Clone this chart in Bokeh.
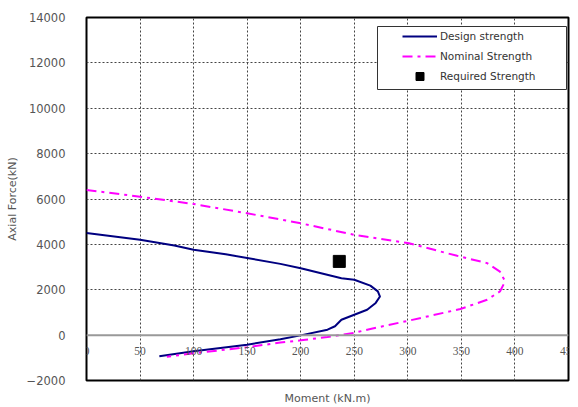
from bokeh.plotting import figure
from bokeh.models import (Range1d, FixedTicker, LabelSet, ColumnDataSource, Legend,
                          LegendItem, Span, BoxAnnotation)
from bokeh.embed import file_html
from bokeh.resources import INLINE

# ---- data ----
design_m = [0, 50, 82, 100, 130, 150, 181, 200, 238, 250, 265, 272, 274, 270,
            262, 250, 238, 232, 225, 201, 181, 150, 100, 68]
design_p = [4500, 4200, 3950, 3760, 3560, 3400, 3140, 2950, 2510, 2440, 2180,
            1930, 1700, 1420, 1120, 900, 680, 390, 240, 0, -180, -420, -710, -930]

nominal_m = [0, 50, 100, 150, 200, 250, 301, 346, 374, 386, 390, 390, 386, 374,
             349, 302, 265, 250, 225, 200, 181, 150, 100, 75]
nominal_p = [6400, 6100, 5780, 5370, 4930, 4420, 4050, 3495, 3174, 2800, 2440,
             2290, 1925, 1560, 1150, 650, 272, 100, -80, -230, -330, -530, -800, -950]

required_m = [236]
required_p = [3250]

x_ticks = [0, 50, 100, 150, 200, 250, 300, 350, 400, 450]
y_ticks = [-2000, 0, 2000, 4000, 6000, 8000, 10000, 12000, 14000]

FONT = "DejaVu Sans"
TXT = "#555555"

p = figure(width=578, height=407, x_range=Range1d(0, 450), y_range=Range1d(-2000, 14000),
           output_backend="svg", toolbar_location=None,
           min_border_left=86, min_border_right=10, min_border_top=17, min_border_bottom=26)

p.background_fill_color = "white"
p.outline_line_color = "black"
p.outline_line_width = 2

# grids
p.xgrid.ticker = FixedTicker(ticks=x_ticks)
p.ygrid.ticker = FixedTicker(ticks=y_ticks)
for g in (p.xgrid, p.ygrid):
    g.grid_line_color = "#444444"
    g.grid_line_dash = "2 2"
    g.grid_line_width = 1

p.add_layout(Span(location=0, dimension="width", line_color="#999999", line_width=2))

# y axis
p.yaxis.ticker = FixedTicker(ticks=y_ticks)
p.yaxis.major_tick_line_color = None
p.yaxis.minor_tick_line_color = None
p.yaxis.axis_line_color = None
p.yaxis.major_label_standoff = 15
p.yaxis.major_label_text_font = FONT
p.yaxis.major_label_text_font_size = "11.5px"
p.yaxis.major_label_text_color = TXT
p.yaxis.axis_label = "Axial Force(kN)"
p.yaxis.axis_label_text_font = FONT
p.yaxis.axis_label_text_font_style = "normal"
p.yaxis.axis_label_text_font_size = "11px"
p.yaxis.axis_label_text_color = TXT
p.yaxis.axis_label_standoff = 5

# x axis (labels drawn at y = 0)
p.xaxis.ticker = FixedTicker(ticks=[])
p.xaxis.major_tick_line_color = None
p.xaxis.minor_tick_line_color = None
p.xaxis.axis_line_color = None
p.xaxis.major_label_text_font_size = "0px"
p.xaxis.axis_label = "Moment (kN.m)"
p.xaxis.axis_label_text_font = FONT
p.xaxis.axis_label_text_font_style = "normal"
p.xaxis.axis_label_text_font_size = "11px"
p.xaxis.axis_label_text_color = TXT
p.xaxis.axis_label_standoff = 11

xsrc = ColumnDataSource(dict(x=x_ticks, y=[0] * len(x_ticks), t=[str(v) for v in x_ticks]))
p.add_layout(LabelSet(x="x", y="y", text="t", source=xsrc, text_align="center",
                      text_baseline="middle", y_offset=-16, text_font=FONT,
                      text_font_size="11.5px", text_color=TXT))

r1 = p.line(design_m, design_p, line_color="#000080", line_width=2)
r2 = p.line(nominal_m, nominal_p, line_color="#FF00FF", line_width=2, line_dash="10 5 3 5")
r3 = p.scatter(required_m, required_p, marker="square", size=12, fill_color="black",
               line_color="black")

# legend frame
p.add_layout(BoxAnnotation(left=291, right=480, bottom=291, top=354,
                           left_units="screen", right_units="screen",
                           bottom_units="screen", top_units="screen",
                           fill_color="white", fill_alpha=1,
                           line_color="#333333", line_width=1, line_alpha=1))

legend = Legend(items=[LegendItem(label="Design strength", renderers=[r1]),
                       LegendItem(label="Nominal Strength", renderers=[r2]),
                       LegendItem(label="Required Strength", renderers=[r3])],
                location=(316, 294))
legend.border_line_color = None
legend.background_fill_alpha = 0
legend.label_text_font = FONT
legend.label_text_font_size = "10.5px"
legend.label_text_color = "#333333"
legend.glyph_width = 35
legend.glyph_height = 20
legend.label_height = 20
legend.label_standoff = 3
legend.padding = 0
legend.spacing = 0
legend.margin = 0
p.add_layout(legend)

open("out.html", "w").write(file_html(p, INLINE))
